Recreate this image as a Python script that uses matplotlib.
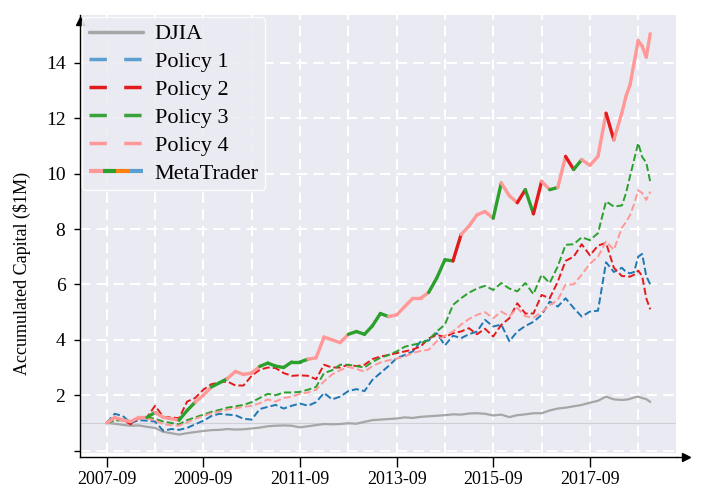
import numpy as np
import pandas as pd
import matplotlib
matplotlib.use('Agg')
import matplotlib.pyplot as plt
import matplotlib.dates as mdates
import matplotlib.transforms as mtransforms
from matplotlib.collections import LineCollection
from matplotlib.lines import Line2D
from matplotlib.legend_handler import HandlerTuple
import seaborn as sns

# bi-monthly samples up to 2018-05, monthly for the last months
dates = list(pd.date_range('2007-09-01', '2018-05-01', freq='2MS')) + \
        list(pd.date_range('2018-06-01', '2018-12-01', freq='MS'))

djia = [1.00, 0.97, 0.93, 0.90, 0.91, 0.86, 0.82, 0.68, 0.63, 0.58,
        0.63, 0.67, 0.71, 0.74, 0.75, 0.78, 0.76, 0.77, 0.80, 0.83,
        0.88, 0.90, 0.91, 0.90, 0.84, 0.88, 0.92, 0.96, 0.95, 0.96,
        0.99, 0.97, 1.04, 1.10, 1.12, 1.14, 1.16, 1.20, 1.18, 1.22,
        1.24, 1.26, 1.28, 1.31, 1.30, 1.34, 1.35, 1.33, 1.27, 1.30,
        1.21, 1.28, 1.31, 1.35, 1.35, 1.45, 1.52, 1.55, 1.60, 1.65,
        1.73, 1.80, 1.95, 1.85, 1.83,
        1.84, 1.87, 1.92, 1.95, 1.90, 1.86, 1.76]

policy1 = [1.00, 1.33, 1.25, 1.00, 1.10, 1.08, 1.05, 0.72, 0.78, 0.75,
           0.82, 0.95, 1.08, 1.25, 1.33, 1.30, 1.28, 1.15, 1.12, 1.50,
           1.58, 1.65, 1.52, 1.62, 1.70, 1.62, 1.75, 2.08, 1.85, 1.95,
           2.15, 2.22, 2.15, 2.55, 2.80, 3.05, 3.34, 3.45, 3.58, 3.94,
           3.97, 4.24, 3.80, 4.15, 4.06, 4.20, 4.30, 4.72, 4.48, 4.55,
           3.95, 4.30, 4.50, 4.65, 4.90, 5.38, 5.20, 5.50, 5.15, 4.84,
           5.02, 5.05, 6.80, 6.45, 6.60,
           6.45, 6.40, 6.45, 7.00, 7.10, 6.30, 6.00]

policy2 = [1.00, 1.12, 1.10, 0.95, 1.17, 1.20, 1.62, 1.22, 1.20, 1.17,
           1.77, 1.90, 2.20, 2.40, 2.46, 2.50, 2.35, 2.35, 2.70, 2.92,
           3.00, 2.98, 2.80, 2.70, 2.72, 2.70, 2.58, 3.10, 3.00, 3.00,
           3.10, 3.05, 3.10, 3.30, 3.40, 3.45, 3.52, 3.58, 3.65, 3.76,
           4.05, 4.18, 4.10, 4.24, 4.30, 4.42, 4.20, 4.40, 4.12, 4.54,
           4.78, 5.32, 4.95, 4.95, 5.62, 5.50, 6.10, 6.85, 7.00, 7.45,
           7.05, 7.40, 7.50, 6.60, 6.30,
           6.30, 6.28, 6.35, 6.50, 6.30, 5.50, 5.10]

policy3 = [1.00, 1.08, 1.10, 1.05, 1.17, 1.20, 1.15, 1.05, 1.00, 0.95,
           1.10, 1.20, 1.30, 1.40, 1.47, 1.55, 1.60, 1.65, 1.75, 1.90,
           2.05, 2.00, 2.10, 2.10, 2.12, 2.20, 2.30, 2.80, 2.90, 3.10,
           3.10, 3.05, 3.00, 3.20, 3.35, 3.45, 3.58, 3.75, 3.82, 3.88,
           4.00, 4.30, 4.55, 5.26, 5.50, 5.70, 5.85, 5.95, 5.80, 6.05,
           5.85, 5.75, 6.05, 5.65, 6.35, 6.05, 6.65, 7.43, 7.45, 7.70,
           7.60, 7.85, 9.00, 8.81, 8.85,
           9.30, 9.90, 10.50, 11.10, 10.60, 10.40, 9.70]

policy4 = [1.00, 1.15, 1.12, 1.05, 1.17, 1.15, 1.10, 0.95, 0.92, 0.90,
           1.02, 1.15, 1.25, 1.35, 1.41, 1.48, 1.53, 1.58, 1.62, 1.71,
           1.85, 1.77, 1.90, 1.95, 2.05, 2.10, 2.20, 2.50, 2.75, 2.90,
           3.02, 2.95, 2.85, 3.05, 3.18, 3.26, 3.32, 3.40, 3.52, 3.60,
           3.64, 3.95, 4.15, 4.30, 4.55, 4.75, 4.90, 5.00, 4.78, 5.02,
           4.85, 5.15, 4.85, 4.80, 5.00, 5.25, 5.44, 6.00, 6.00, 6.35,
           6.75, 7.00, 7.55, 7.25, 8.05,
           8.25, 8.50, 8.90, 9.40, 9.30, 9.05, 9.35]

meta = [1.00, 1.20, 1.10, 1.05, 1.20, 1.20, 1.38, 1.20, 1.15, 1.10,
        1.45, 1.75, 2.00, 2.30, 2.45, 2.60, 2.86, 2.75, 2.80, 3.04,
        3.16, 3.05, 3.00, 3.20, 3.20, 3.30, 3.35, 4.10, 4.00, 3.90,
        4.20, 4.30, 4.20, 4.50, 4.95, 4.84, 4.90, 5.20, 5.50, 5.50,
        5.71, 6.23, 6.89, 6.85, 7.80, 8.10, 8.51, 8.63, 8.39, 9.66,
        9.20, 8.95, 9.42, 8.55, 9.72, 9.42, 9.50, 10.62, 10.15, 10.50,
        10.30, 10.62, 12.18, 11.22, 12.20,
        12.80, 13.20, 14.00, 14.80, 14.60, 14.20, 15.05]

# policy picked by MetaTrader for the step ending at each date
meta_policy = [4, 4, 4, 4, 4, 4, 3, 4, 4, 4,
               3, 3, 4, 4, 3, 3, 4, 4, 4, 4,
               3, 3, 3, 3, 3, 3, 4, 4, 4, 4,
               4, 3, 3, 3, 3, 3, 4, 4, 4, 4,
               4, 3, 3, 3, 2, 4, 4, 4, 4, 3,
               4, 4, 2, 3, 2, 4, 3, 4, 2, 3,
               4, 4, 4, 2, 4,
               4, 4, 4, 4, 4, 4, 4]

xtick_years = [2007, 2009, 2011, 2013, 2015, 2017]
yticks = [0, 2, 4, 6, 8, 10, 12, 14]

c_blue = '#1f77b4'
c_red = '#e31a1c'
c_green = '#2ca02c'
c_pink = '#ff9896'
c_gray = '#a6a6a6'
policy_colors = {1: c_blue, 2: c_red, 3: c_green, 4: c_pink}

sns.set_style('darkgrid', {'axes.facecolor': '#eaeaf2'})
plt.rcParams['font.family'] = ['Liberation Serif', 'DejaVu Serif']
for k in ['text.color', 'axes.labelcolor', 'xtick.color', 'ytick.color']:
    plt.rcParams[k] = 'black'

fig = plt.figure(figsize=(7.15, 4.96), dpi=100)
ax = fig.add_axes([0.112, 0.087, 0.8335, 0.883])

ax.axhline(1.0, color='#cfcfd6', lw=0.8, zorder=1)
ax.plot(dates, djia, color=c_gray, lw=1.6, zorder=2)
ax.plot(dates, policy1, color=c_blue, lw=1.4, ls='--', zorder=3)
ax.plot(dates, policy2, color=c_red, lw=1.4, ls='--', zorder=3)
ax.plot(dates, policy3, color=c_green, lw=1.4, ls='--', zorder=3)
ax.plot(dates, policy4, color=c_pink, lw=1.4, ls='--', zorder=3)

xnum = mdates.date2num(dates)
pts = np.column_stack([xnum, meta])
segs = [pts[i - 1:i + 1] for i in range(1, len(pts))]
seg_colors = [policy_colors[p] for p in meta_policy[1:]]
lc = LineCollection(segs, colors=seg_colors, linewidths=2.4, capstyle='round', zorder=4)
ax.add_collection(lc)

ax.set_xlim(pd.Timestamp('2007-02-12'), pd.Timestamp('2019-06-14'))
ax.set_ylim(-0.08, 15.73)

ax.set_xticks([pd.Timestamp(f'{y}-09-01') for y in xtick_years])
ax.xaxis.set_minor_locator(mdates.YearLocator(1, month=9))
ax.xaxis.set_major_formatter(mdates.DateFormatter('%Y-%m'))
ax.set_yticks(yticks)
ax.set_yticklabels([''] + [str(t) for t in yticks[1:]])

grid_kw = dict(color='white', lw=1.5, ls=(0, (5, 3)))
ax.grid(False)
ax.grid(True, which='both', axis='x', **grid_kw)
ax.grid(True, which='major', axis='y', **grid_kw)

for s in ['top', 'right']:
    ax.spines[s].set_visible(False)
for s in ['left', 'bottom']:
    ax.spines[s].set_visible(True)
    ax.spines[s].set_color('black')
    ax.spines[s].set_linewidth(1.0)
ax.spines['bottom'].set_position(('outward', 3))
ax.spines['left'].set_bounds(-0.23, 15.73)

ax.tick_params(axis='x', which='major', direction='out', length=7, width=1, color='black',
               labelsize=13, pad=3, bottom=True)
ax.tick_params(axis='x', which='minor', length=0)
ax.tick_params(axis='y', direction='out', length=4.5, width=1, color='black',
               labelsize=14, pad=6, left=True)
ax.set_ylabel('Accumulated Capital (\\$1M)', fontsize=13)
ax.yaxis.set_label_coords(-0.082, 0.41)

# arrow heads on the axes
off = mtransforms.ScaledTranslation(0, -3 / 72, fig.dpi_scale_trans)
ax.plot([1.0, 1.012], [0, 0], color='black', lw=1.0, transform=ax.transAxes + off, clip_on=False)
ax.plot([1.0168], [0], marker='>', color='black', ms=6, transform=ax.transAxes + off, clip_on=False)
ax.plot([0], [0.985], marker='^', color='black', ms=6, transform=ax.transAxes, clip_on=False)

handles = [
    Line2D([], [], color=c_gray, lw=2.5),
    Line2D([], [], color='#5a9fcf', lw=2.5, ls=(0, (5, 5))),
    Line2D([], [], color=c_red, lw=2.5, ls=(0, (5, 5))),
    Line2D([], [], color='#3aa23a', lw=2.5, ls=(0, (5, 5))),
    Line2D([], [], color=c_pink, lw=2.5, ls=(0, (5, 5))),
    tuple(Line2D([], [], color=c, lw=3.0, solid_capstyle='butt')
          for c in [c_pink, c_green, '#ff7f0e', '#5a9fcf']),
]
labels = ['DJIA', 'Policy 1', 'Policy 2', 'Policy 3', 'Policy 4', 'MetaTrader']
ax.legend(handles, labels, loc='upper left', fontsize=16, handlelength=2.45,
          handletextpad=0.5, borderpad=0.3, labelspacing=0.33,
          borderaxespad=0.1, framealpha=0.85, edgecolor='white', fancybox=True,
          handler_map={tuple: HandlerTuple(ndivide=None, pad=0)})

fig.savefig('out.png', dpi=100)
